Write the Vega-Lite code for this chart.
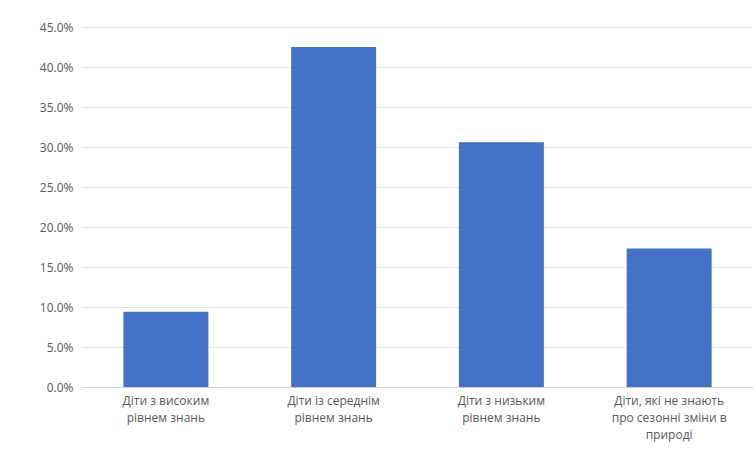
{
  "$schema": "https://vega.github.io/schema/vega-lite/v6.json",
  "autosize": {"type": "none"},
  "padding": {"left": 82, "top": 27, "right": 0, "bottom": 87},
  "width": 671,
  "height": 360,
  "background": "white",
  "data": {
    "values": [
      {"category": "Діти з високим|рівнем знань", "share": 0.094},
      {"category": "Діти із середнім|рівнем знань", "share": 0.425},
      {"category": "Діти з низьким|рівнем знань", "share": 0.306},
      {"category": "Діти, які не знають|про сезонні зміни в|природі", "share": 0.173}
    ]
  },
  "mark": {"type": "bar", "color": "#4472C4", "width": 85},
  "encoding": {
    "x": {
      "field": "category",
      "type": "nominal",
      "sort": null,
      "title": null,
      "axis": {
        "labelAngle": 0,
        "labelExpr": "split(datum.label, '|')",
        "labelFont": "Open Sans",
        "labelFontSize": 12,
        "labelColor": "#595959",
        "labelLineHeight": 17,
        "labelPadding": 8,
        "labelLimit": 200,
        "ticks": false,
        "domainColor": "#d0d0d0",
        "domainWidth": 1
      }
    },
    "y": {
      "field": "share",
      "type": "quantitative",
      "title": null,
      "scale": {"domain": [0, 0.45], "nice": false},
      "axis": {
        "values": [0, 0.05, 0.1, 0.15, 0.2, 0.25, 0.3, 0.35, 0.4, 0.45],
        "format": ".1%",
        "labelFont": "Open Sans",
        "labelFontSize": 12,
        "labelColor": "#595959",
        "labelPadding": 9,
        "ticks": false,
        "domain": false,
        "gridColor": "#e3e3e3",
        "gridWidth": 1
      }
    }
  },
  "config": {"view": {"stroke": null}}
}
